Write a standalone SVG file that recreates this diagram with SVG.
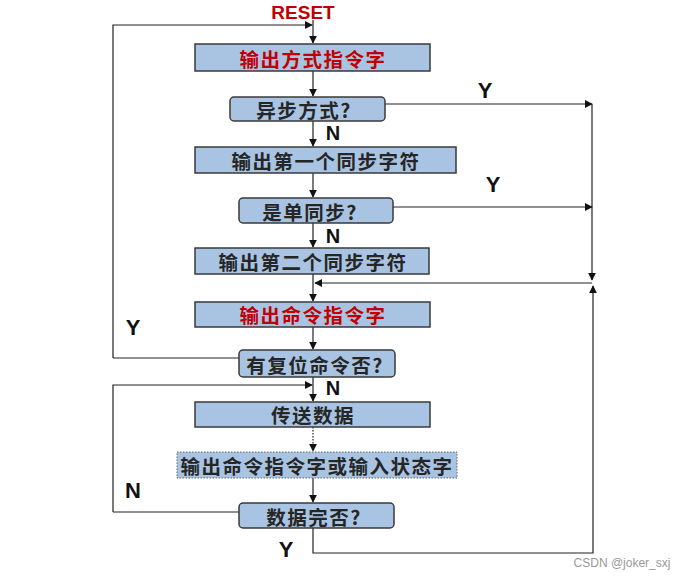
<svg xmlns="http://www.w3.org/2000/svg" width="693" height="581" viewBox="0 0 693 581">
<style>
.box{fill:#a9c4e2;stroke:#3a3a3a;stroke-width:1.5}
.dot{fill:#a9c4e2;stroke:#666;stroke-width:1;stroke-dasharray:1.5 1.5}
.t{font-family:"Noto Sans CJK SC",sans-serif;font-size:19.5px;font-weight:bold;letter-spacing:1.5px;fill:#262626;text-anchor:middle;dominant-baseline:central}
.r{fill:#c00000}
.lbl{font-family:"Liberation Sans",Arial,sans-serif;font-size:22px;font-weight:bold;fill:#111;text-anchor:middle;dominant-baseline:central}
.n{font-family:"Liberation Sans",Arial,sans-serif;font-size:20px;font-weight:bold;fill:#111;text-anchor:middle}
.ln{fill:none;stroke:#222;stroke-width:1.2}
</style>
<defs>
<marker id="a" viewBox="0 0 10 10" refX="9" refY="5" markerWidth="8" markerHeight="8" markerUnits="userSpaceOnUse" orient="auto">
<path d="M0,0 L10,5 L0,10 z" fill="#111"/>
</marker>
</defs>
<rect width="693" height="581" fill="#fff"/>
<text x="303" y="12" class="lbl" style="fill:#c00000;font-size:19px">RESET</text>
<g id="connectors">
<path class="ln" d="M313,20 V43" marker-end="url(#a)"/>
<path class="ln" d="M113,358 V25 H312" marker-end="url(#a)"/>
<path class="ln" d="M313,71 V96" marker-end="url(#a)"/>
<path class="ln" d="M385,104 H592" marker-end="url(#a)"/>
<path class="ln" d="M313,121 V146" marker-end="url(#a)"/>
<path class="ln" d="M313,173 V197" marker-end="url(#a)"/>
<path class="ln" d="M393,207 H592" marker-end="url(#a)"/>
<path class="ln" d="M313,223 V247" marker-end="url(#a)"/>
<path class="ln" d="M592,104 V280" marker-end="url(#a)"/>
<path class="ln" d="M592,283 H315" marker-end="url(#a)"/>
<path class="ln" d="M313,274 V301" marker-end="url(#a)"/>
<path class="ln" d="M313,327 V349" marker-end="url(#a)"/>
<path class="ln" d="M239,358 H113"/>
<path class="ln" d="M313,377 V401" marker-end="url(#a)"/>
<path class="ln" d="M113,512 V385 H312" marker-end="url(#a)"/>
<path class="ln" d="M313,427 V451" stroke-dasharray="1.5 1.5" marker-end="url(#a)"/>
<path class="ln" d="M313,478 V502" marker-end="url(#a)"/>
<path class="ln" d="M239,512 H113"/>
<path class="ln" d="M313,528 V553 H593 V286" marker-end="url(#a)"/>
</g>
<g id="labels">
<text x="485" y="90" class="lbl">Y</text>
<text x="333" y="140" class="n">N</text>
<text x="493" y="184" class="lbl">Y</text>
<text x="333" y="243" class="n">N</text>
<text x="133" y="327" class="lbl">Y</text>
<text x="333" y="395" class="n">N</text>
<text x="133" y="490" class="lbl">N</text>
<text x="286" y="549" class="lbl">Y</text>
</g>
<g id="n1"><rect class="box" x="195" y="44" width="235" height="27"/><text x="313" y="58" class="t r">输出方式指令字</text></g>
<g id="n2"><rect class="box" x="230" y="97" width="155" height="24" rx="4"/><text x="304" y="109" class="t">异步方式?</text></g>
<g id="n3"><rect class="box" x="195" y="147" width="261" height="26"/><text x="326" y="160" class="t">输出第一个同步字符</text></g>
<g id="n4"><rect class="box" x="239" y="198" width="154" height="25" rx="4"/><text x="310" y="211" class="t">是单同步?</text></g>
<g id="n5"><rect class="box" x="195" y="248" width="234" height="26"/><text x="313" y="261" class="t">输出第二个同步字符</text></g>
<g id="n6"><rect class="box" x="195" y="302" width="235" height="25"/><text x="313" y="314" class="t r">输出命令指令字</text></g>
<g id="n7"><rect class="box" x="239" y="350" width="156" height="27" rx="4"/><text x="315" y="364" class="t">有复位命令否?</text></g>
<g id="n8"><rect class="box" x="195" y="402" width="235" height="25"/><text x="313" y="414" class="t">传送数据</text></g>
<g id="n9"><rect class="dot" x="177" y="452" width="280" height="26"/><text x="317" y="465" class="t">输出命令指令字或输入状态字</text></g>
<g id="n10"><rect class="box" x="239" y="503" width="155" height="25" rx="4"/><text x="314" y="516" class="t">数据完否?</text></g>
<text x="622" y="563" font-family="Liberation Sans,Arial,sans-serif" font-size="12" fill="#999" text-anchor="middle" dominant-baseline="central">CSDN @joker_sxj</text>
</svg>
